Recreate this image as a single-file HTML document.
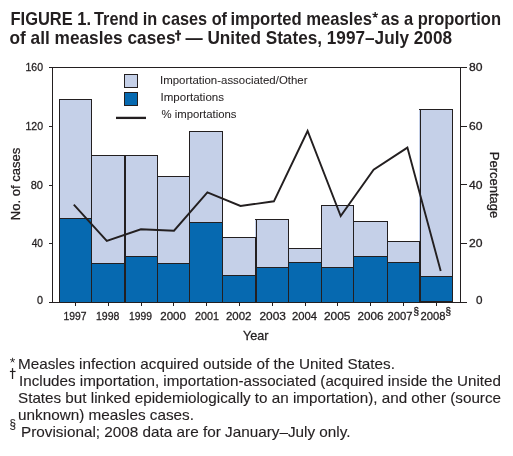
<!DOCTYPE html>
<html><head><meta charset="utf-8"><style>
html,body{margin:0;padding:0;background:#fff;width:513px;height:456px;overflow:hidden}
svg{position:absolute;left:0;top:0;will-change:transform}
text{font-family:"Liberation Sans",sans-serif;fill:#231f20;stroke:#231f20;stroke-width:0.3px}
</style></head><body>
<svg width="513" height="456" viewBox="0 0 513 456">
<rect x="59" y="99" width="33" height="203" fill="#c5d0e8"/>
<rect x="59" y="218" width="33" height="84" fill="#0669b0"/>
<rect x="91" y="155" width="34" height="147" fill="#c5d0e8"/>
<rect x="91" y="263" width="34" height="39" fill="#0669b0"/>
<rect x="124" y="155" width="34" height="147" fill="#c5d0e8"/>
<rect x="124" y="256" width="34" height="46" fill="#0669b0"/>
<rect x="157" y="176" width="33" height="126" fill="#c5d0e8"/>
<rect x="157" y="263" width="33" height="39" fill="#0669b0"/>
<rect x="189" y="131" width="34" height="171" fill="#c5d0e8"/>
<rect x="189" y="222" width="34" height="80" fill="#0669b0"/>
<rect x="222" y="237" width="34" height="65" fill="#c5d0e8"/>
<rect x="222" y="275" width="34" height="27" fill="#0669b0"/>
<rect x="255" y="219" width="34" height="83" fill="#c5d0e8"/>
<rect x="255" y="267" width="34" height="35" fill="#0669b0"/>
<rect x="288" y="248" width="34" height="54" fill="#c5d0e8"/>
<rect x="288" y="262" width="34" height="40" fill="#0669b0"/>
<rect x="321" y="205" width="33" height="97" fill="#c5d0e8"/>
<rect x="321" y="267" width="33" height="35" fill="#0669b0"/>
<rect x="353" y="221" width="35" height="81" fill="#c5d0e8"/>
<rect x="353" y="256" width="35" height="46" fill="#0669b0"/>
<rect x="387" y="241" width="33" height="61" fill="#c5d0e8"/>
<rect x="387" y="262" width="33" height="40" fill="#0669b0"/>
<rect x="419" y="109" width="34" height="193" fill="#c5d0e8"/>
<rect x="419" y="276" width="34" height="26" fill="#0669b0"/>
<rect x="59" y="99" width="33" height="1" fill="#231f20"/>
<rect x="59" y="218" width="33" height="1" fill="#231f20"/>
<rect x="91" y="155" width="35" height="1" fill="#231f20"/>
<rect x="91" y="263" width="35" height="1" fill="#231f20"/>
<rect x="124" y="155" width="34" height="1" fill="#231f20"/>
<rect x="124" y="256" width="34" height="1" fill="#231f20"/>
<rect x="157" y="176" width="33" height="1" fill="#231f20"/>
<rect x="157" y="263" width="33" height="1" fill="#231f20"/>
<rect x="189" y="131" width="34" height="1" fill="#231f20"/>
<rect x="189" y="222" width="34" height="1" fill="#231f20"/>
<rect x="222" y="237" width="35" height="1" fill="#231f20"/>
<rect x="222" y="275" width="35" height="1" fill="#231f20"/>
<rect x="255" y="219" width="34" height="1" fill="#231f20"/>
<rect x="255" y="267" width="34" height="1" fill="#231f20"/>
<rect x="288" y="248" width="34" height="1" fill="#231f20"/>
<rect x="288" y="262" width="34" height="1" fill="#231f20"/>
<rect x="321" y="205" width="33" height="1" fill="#231f20"/>
<rect x="321" y="267" width="33" height="1" fill="#231f20"/>
<rect x="353" y="221" width="35" height="1" fill="#231f20"/>
<rect x="353" y="256" width="35" height="1" fill="#231f20"/>
<rect x="387" y="241" width="34" height="1" fill="#231f20"/>
<rect x="387" y="262" width="34" height="1" fill="#231f20"/>
<rect x="419" y="109" width="34" height="1" fill="#231f20"/>
<rect x="419" y="276" width="34" height="1" fill="#231f20"/>
<rect x="59" y="99" width="1" height="204" fill="#231f20"/>
<rect x="91" y="99" width="1" height="204" fill="#231f20"/>
<rect x="124" y="155" width="1" height="148" fill="#231f20"/>
<rect x="125" y="155" width="1" height="148" fill="#231f20"/>
<rect x="157" y="155" width="1" height="148" fill="#231f20"/>
<rect x="189" y="131" width="1" height="172" fill="#231f20"/>
<rect x="222" y="131" width="1" height="172" fill="#231f20"/>
<rect x="255" y="237" width="1" height="66" fill="#231f20"/>
<rect x="256" y="219" width="1" height="84" fill="#231f20"/>
<rect x="288" y="219" width="1" height="84" fill="#231f20"/>
<rect x="321" y="205" width="1" height="98" fill="#231f20"/>
<rect x="353" y="205" width="1" height="98" fill="#231f20"/>
<rect x="387" y="221" width="1" height="82" fill="#231f20"/>
<rect x="419" y="241" width="1" height="62" fill="#231f20"/>
<rect x="420" y="109" width="1" height="194" fill="#231f20"/>
<rect x="452" y="109" width="1" height="194" fill="#231f20"/>
<rect x="420" y="301" width="33" height="1" fill="#231f20"/>
<rect x="49" y="67" width="418" height="1" fill="#231f20"/>
<rect x="49" y="302" width="418" height="1" fill="#231f20"/>
<rect x="52" y="67" width="1" height="236" fill="#231f20"/>
<rect x="460" y="67" width="1" height="236" fill="#231f20"/>
<rect x="49" y="126" width="3" height="1" fill="#231f20"/>
<rect x="49" y="185" width="3" height="1" fill="#231f20"/>
<rect x="49" y="243" width="3" height="1" fill="#231f20"/>
<rect x="461" y="126" width="6" height="1" fill="#231f20"/>
<rect x="461" y="184" width="6" height="1" fill="#231f20"/>
<rect x="461" y="243" width="6" height="1" fill="#231f20"/>
<rect x="75" y="303" width="1" height="3" fill="#231f20"/>
<rect x="108" y="303" width="1" height="3" fill="#231f20"/>
<rect x="141" y="303" width="1" height="3" fill="#231f20"/>
<rect x="173" y="303" width="1" height="3" fill="#231f20"/>
<rect x="206" y="303" width="1" height="3" fill="#231f20"/>
<rect x="239" y="303" width="1" height="3" fill="#231f20"/>
<rect x="272" y="303" width="1" height="3" fill="#231f20"/>
<rect x="305" y="303" width="1" height="3" fill="#231f20"/>
<rect x="337" y="303" width="1" height="3" fill="#231f20"/>
<rect x="370" y="303" width="1" height="3" fill="#231f20"/>
<rect x="403" y="303" width="1" height="3" fill="#231f20"/>
<rect x="436" y="303" width="1" height="3" fill="#231f20"/>
<path d="M73.8,204.7 L106.8,240.8 L140.9,229.3 L174.0,230.7 L207.4,192.4 L240.5,206.0 L273.9,201.3 L307.6,131.0 L340.7,216.0 L373.6,169.6 L407.4,147.6 L440.7,271.0" fill="none" stroke="#231f20" stroke-width="1.9" stroke-linejoin="miter" shape-rendering="geometricPrecision"/>
<rect x="124.5" y="74.5" width="13" height="13" fill="#c5d0e8" stroke="#231f20" stroke-width="1"/>
<rect x="124.5" y="92.5" width="13" height="13" fill="#0669b0" stroke="#231f20" stroke-width="1"/>
<path d="M116,117.9 H146" stroke="#231f20" stroke-width="2.3"/>
<rect x="177.2" y="30.2" width="2" height="10.5" fill="#231f20"/><rect x="175.1" y="32.8" width="5.9" height="1.9" fill="#231f20"/>
<path d="M12.55,360.30 L12.55,357.80 M12.55,360.30 L14.93,359.53 M12.55,360.30 L14.02,362.32 M12.55,360.30 L11.08,362.32 M12.55,360.30 L10.17,359.53" stroke="#231f20" stroke-width="0.9" fill="none"/>
<rect x="11.9" y="368.1" width="1.25" height="10.9" fill="#231f20"/><rect x="9.9" y="370.9" width="5.7" height="1.15" fill="#231f20"/>
<path d="M375.20,15.00 L375.20,12.10 M375.20,15.00 L377.96,14.10 M375.20,15.00 L376.90,17.35 M375.20,15.00 L373.50,17.35 M375.20,15.00 L372.44,14.10" stroke="#231f20" stroke-width="1.3" fill="none"/>
<text id="t1a" style="stroke-width:0px" x="10.50" y="24.70" font-size="18.50" font-weight="bold" textLength="80.50" lengthAdjust="spacingAndGlyphs">FIGURE 1.</text>
<text id="t1b" style="stroke-width:0px" x="94.00" y="24.70" font-size="18.50" font-weight="bold" textLength="133.00" lengthAdjust="spacingAndGlyphs">Trend in cases of</text>
<text id="t1c" style="stroke-width:0px" x="230.50" y="24.70" font-size="18.50" font-weight="bold" textLength="141.50" lengthAdjust="spacingAndGlyphs">imported measles</text>
<text id="t1d" style="stroke-width:0px" x="381.00" y="24.70" font-size="18.50" font-weight="bold" textLength="120.00" lengthAdjust="spacingAndGlyphs">as a proportion</text>
<text id="t2a" style="stroke-width:0px" x="9.50" y="43.80" font-size="18.50" font-weight="bold" textLength="166.00" lengthAdjust="spacingAndGlyphs">of all measles cases</text>
<text id="t2b" style="stroke-width:0px" x="185.50" y="43.80" font-size="18.50" font-weight="bold" textLength="266.50" lengthAdjust="spacingAndGlyphs">— United States, 1997–July 2008</text>
<text id="lg1" style="stroke-width:0.05px" x="160.00" y="84.30" font-size="11.50" font-weight="normal" textLength="147.50" lengthAdjust="spacingAndGlyphs">Importation-associated/Other</text>
<text id="lg2" style="stroke-width:0.05px" x="160.50" y="101.20" font-size="11.50" font-weight="normal" textLength="63.50" lengthAdjust="spacingAndGlyphs">Importations</text>
<text id="lg3" style="stroke-width:0.05px" x="161.50" y="118.40" font-size="11.50" font-weight="normal" textLength="75.00" lengthAdjust="spacingAndGlyphs">% importations</text>
<text id="ll160" style="stroke-width:0.3px" x="25.50" y="70.90" font-size="11.50" font-weight="normal" textLength="17.50" lengthAdjust="spacingAndGlyphs">160</text>
<text id="ll120" style="stroke-width:0.3px" x="25.50" y="130.00" font-size="11.50" font-weight="normal" textLength="17.50" lengthAdjust="spacingAndGlyphs">120</text>
<text id="ll80" style="stroke-width:0.3px" x="30.75" y="189.00" font-size="11.50" font-weight="normal" textLength="12.25" lengthAdjust="spacingAndGlyphs">80</text>
<text id="ll40" style="stroke-width:0.3px" x="31.75" y="246.90" font-size="11.50" font-weight="normal" textLength="11.25" lengthAdjust="spacingAndGlyphs">40</text>
<text id="ll0" style="stroke-width:0.3px" x="37.00" y="304.10" font-size="11.50" font-weight="normal" textLength="6.00" lengthAdjust="spacingAndGlyphs">0</text>
<text id="rl80" style="stroke-width:0.3px" x="469.00" y="71.10" font-size="11.50" font-weight="normal" textLength="13.50" lengthAdjust="spacingAndGlyphs">80</text>
<text id="rl60" style="stroke-width:0.3px" x="469.00" y="129.80" font-size="11.50" font-weight="normal" textLength="13.50" lengthAdjust="spacingAndGlyphs">60</text>
<text id="rl40" style="stroke-width:0.3px" x="469.00" y="188.90" font-size="11.50" font-weight="normal" textLength="13.50" lengthAdjust="spacingAndGlyphs">40</text>
<text id="rl20" style="stroke-width:0.3px" x="469.00" y="246.90" font-size="11.50" font-weight="normal" textLength="13.50" lengthAdjust="spacingAndGlyphs">20</text>
<text id="rl0" style="stroke-width:0.3px" x="476.00" y="304.10" font-size="11.50" font-weight="normal" textLength="6.50" lengthAdjust="spacingAndGlyphs">0</text>
<text id="y1997" style="stroke-width:0.3px" x="63.50" y="320.30" font-size="11.50" font-weight="normal" textLength="23.00" lengthAdjust="spacingAndGlyphs">1997</text>
<text id="y1998" style="stroke-width:0.3px" x="96.00" y="320.30" font-size="11.50" font-weight="normal" textLength="23.50" lengthAdjust="spacingAndGlyphs">1998</text>
<text id="y1999" style="stroke-width:0.3px" x="129.00" y="320.30" font-size="11.50" font-weight="normal" textLength="23.00" lengthAdjust="spacingAndGlyphs">1999</text>
<text id="y2000" style="stroke-width:0.3px" x="160.25" y="320.30" font-size="11.50" font-weight="normal" textLength="25.75" lengthAdjust="spacingAndGlyphs">2000</text>
<text id="y2001" style="stroke-width:0.3px" x="195.00" y="320.30" font-size="11.50" font-weight="normal" textLength="24.00" lengthAdjust="spacingAndGlyphs">2001</text>
<text id="y2002" style="stroke-width:0.3px" x="226.00" y="320.30" font-size="11.50" font-weight="normal" textLength="25.50" lengthAdjust="spacingAndGlyphs">2002</text>
<text id="y2003" style="stroke-width:0.3px" x="259.50" y="320.30" font-size="11.50" font-weight="normal" textLength="26.50" lengthAdjust="spacingAndGlyphs">2003</text>
<text id="y2004" style="stroke-width:0.3px" x="292.00" y="320.30" font-size="11.50" font-weight="normal" textLength="25.00" lengthAdjust="spacingAndGlyphs">2004</text>
<text id="y2005" style="stroke-width:0.3px" x="324.00" y="320.30" font-size="11.50" font-weight="normal" textLength="26.50" lengthAdjust="spacingAndGlyphs">2005</text>
<text id="y2006" style="stroke-width:0.3px" x="357.50" y="320.30" font-size="11.50" font-weight="normal" textLength="26.00" lengthAdjust="spacingAndGlyphs">2006</text>
<text id="y2007" style="stroke-width:0.3px" x="387.50" y="320.30" font-size="11.50" font-weight="normal" textLength="25.00" lengthAdjust="spacingAndGlyphs">2007</text>
<text id="y2008" style="stroke-width:0.3px" x="420.50" y="320.30" font-size="11.50" font-weight="normal" textLength="25.00" lengthAdjust="spacingAndGlyphs">2008</text>
<text id="s2007" style="stroke-width:0.35px" x="413.50" y="315.00" font-size="10.25" font-weight="normal" textLength="5.50" lengthAdjust="spacingAndGlyphs">§</text>
<text id="s2008" style="stroke-width:0.35px" x="445.50" y="315.00" font-size="11.37" font-weight="normal" textLength="5.50" lengthAdjust="spacingAndGlyphs">§</text>
<text id="year" style="stroke-width:0.3px" x="243.00" y="339.80" font-size="13.50" font-weight="normal" textLength="25.50" lengthAdjust="spacingAndGlyphs">Year</text>
<text id="fn1" style="stroke-width:0.12px" x="18.00" y="368.60" font-size="14.50" font-weight="normal" textLength="377.00" lengthAdjust="spacingAndGlyphs">Measles infection acquired outside of the United States.</text>
<text id="fn2" style="stroke-width:0.12px" x="19.00" y="385.50" font-size="14.50" font-weight="normal" textLength="482.00" lengthAdjust="spacingAndGlyphs">Includes importation, importation-associated (acquired inside the United</text>
<text id="fn3" style="stroke-width:0.12px" x="18.00" y="403.00" font-size="14.50" font-weight="normal" textLength="483.00" lengthAdjust="spacingAndGlyphs">States but linked epidemiologically to an importation), and other (source</text>
<text id="fn4" style="stroke-width:0.12px" x="18.00" y="420.10" font-size="14.50" font-weight="normal" textLength="176.00" lengthAdjust="spacingAndGlyphs">unknown) measles cases.</text>
<text id="fm5" style="stroke-width:0.12px" x="9.50" y="427.70" font-size="13.44" font-weight="normal" textLength="6.50" lengthAdjust="spacingAndGlyphs">§</text>
<text id="fn5" style="stroke-width:0.12px" x="21.00" y="436.80" font-size="14.50" font-weight="normal" textLength="329.50" lengthAdjust="spacingAndGlyphs">Provisional; 2008 data are for January–July only.</text>
<text transform="translate(19.5,184) rotate(-90)" text-anchor="middle" font-size="13">No. of cases</text>
<text transform="translate(490,185) rotate(90)" text-anchor="middle" font-size="13">Percentage</text>
</svg>
</body></html>
